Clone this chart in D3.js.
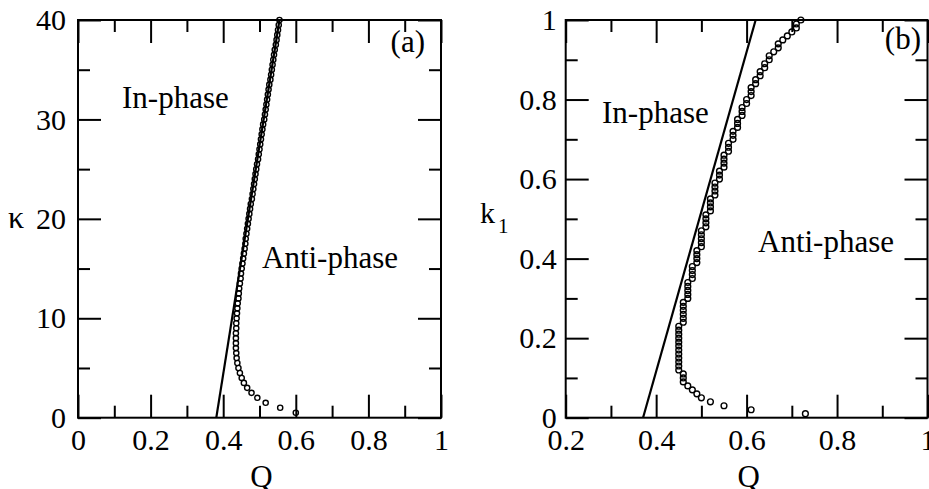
<!DOCTYPE html>
<html>
<head>
<meta charset="utf-8">
<script src="https://cdn.jsdelivr.net/npm/d3@7"></script>
<style>
  body { margin: 0; background: #fff; }
  svg { display: block; }
</style>
</head>
<body>
<div id="chart"></div>
<script>
// panel (a): kappa vs Q
const kappaA = [0.5, 1, 1.5, 2, 2.5, 3, 3.5, 4, 4.5, 5, 5.5, 6, 6.5, 7, 7.5, 8, 8.5, 9, 9.5, 10,
  10.5, 11, 11.5, 12, 12.5, 13, 13.5, 14, 14.5, 15, 15.5, 16, 16.5, 17, 17.5, 18, 18.5, 19, 19.5, 20,
  20.5, 21, 21.5, 22, 22.5, 23, 23.5, 24, 24.5, 25, 25.5, 26, 26.5, 27, 27.5, 28, 28.5, 29, 29.5, 30,
  30.5, 31, 31.5, 32, 32.5, 33, 33.5, 34, 34.5, 35, 35.5, 36, 36.5, 37, 37.5, 38, 38.5, 39, 39.5, 40];
const qA = [0.600, 0.557, 0.517, 0.494, 0.478, 0.466, 0.457, 0.451, 0.446, 0.442,
  0.439, 0.437, 0.436, 0.435, 0.435, 0.435, 0.435, 0.436, 0.436, 0.437,
  0.438, 0.439, 0.440, 0.442, 0.443, 0.444, 0.446, 0.448, 0.449, 0.451,
  0.453, 0.455, 0.457, 0.459, 0.461, 0.462, 0.464, 0.466, 0.468, 0.470,
  0.472, 0.474, 0.476, 0.479, 0.481, 0.483, 0.485, 0.487, 0.489, 0.491,
  0.493, 0.496, 0.498, 0.500, 0.502, 0.504, 0.506, 0.508, 0.510, 0.513,
  0.515, 0.517, 0.519, 0.521, 0.523, 0.525, 0.527, 0.530, 0.532, 0.534,
  0.536, 0.538, 0.540, 0.542, 0.545, 0.547, 0.549, 0.551, 0.553, 0.555];
const lineQA = [0.381, 0.555];
const lineKappaA = [0, 40];

// panel (b): k1 vs Q
const k1B = [0.01, 0.02, 0.03, 0.04, 0.05, 0.06, 0.07, 0.08, 0.09, 0.10,
  0.11, 0.12, 0.13, 0.14, 0.15, 0.16, 0.17, 0.18, 0.19, 0.20,
  0.21, 0.22, 0.23, 0.24, 0.25, 0.26, 0.27, 0.28, 0.29, 0.30,
  0.31, 0.32, 0.33, 0.34, 0.35, 0.36, 0.37, 0.38, 0.39, 0.40,
  0.41, 0.42, 0.43, 0.44, 0.45, 0.46, 0.47, 0.48, 0.49, 0.50,
  0.51, 0.52, 0.53, 0.54, 0.55, 0.56, 0.57, 0.58, 0.59, 0.60,
  0.61, 0.62, 0.63, 0.64, 0.65, 0.66, 0.67, 0.68, 0.69, 0.70,
  0.71, 0.72, 0.73, 0.74, 0.75, 0.76, 0.77, 0.78, 0.79, 0.80,
  0.81, 0.82, 0.83, 0.84, 0.85, 0.86, 0.87, 0.88, 0.89, 0.90,
  0.91, 0.92, 0.93, 0.94, 0.95, 0.96, 0.97, 0.98, 0.99, 1.00];
const qB = [0.73, 0.61, 0.55, 0.52, 0.50, 0.49, 0.48, 0.47, 0.46, 0.46,
  0.46, 0.45, 0.45, 0.45, 0.45, 0.45, 0.45, 0.45, 0.45, 0.45,
  0.45, 0.45, 0.45, 0.46, 0.46, 0.46, 0.46, 0.46, 0.46, 0.47,
  0.47, 0.47, 0.47, 0.47, 0.48, 0.48, 0.48, 0.48, 0.49, 0.49,
  0.49, 0.49, 0.50, 0.50, 0.50, 0.50, 0.50, 0.51, 0.51, 0.51,
  0.51, 0.52, 0.52, 0.52, 0.52, 0.53, 0.53, 0.53, 0.53, 0.54,
  0.54, 0.54, 0.55, 0.55, 0.55, 0.55, 0.56, 0.56, 0.56, 0.57,
  0.57, 0.57, 0.58, 0.58, 0.58, 0.59, 0.59, 0.59, 0.60, 0.60,
  0.61, 0.61, 0.61, 0.62, 0.62, 0.63, 0.63, 0.64, 0.64, 0.65,
  0.65, 0.66, 0.67, 0.67, 0.68, 0.69, 0.70, 0.71, 0.71, 0.72];
const lineQB = [0.371, 0.620];
const lineK1B = [0, 1];

// ticks
const xMajorA = [0, 0.2, 0.4, 0.6, 0.8, 1];
const xLabelsA = ["0", "0.2", "0.4", "0.6", "0.8", "1"];
const xMinorA = [0.1, 0.3, 0.5, 0.7, 0.9];
const yMajorA = [0, 10, 20, 30, 40];
const yLabelsA = ["0", "10", "20", "30", "40"];
const yMinorA = [5, 15, 25, 35];

const xMajorB = [0.2, 0.4, 0.6, 0.8, 1];
const xLabelsB = ["0.2", "0.4", "0.6", "0.8", "1"];
const xMinorB = [0.3, 0.5, 0.7, 0.9];
const yMajorB = [0, 0.2, 0.4, 0.6, 0.8, 1];
const yLabelsB = ["0", "0.2", "0.4", "0.6", "0.8", "1"];
const yMinorB = [0.1, 0.3, 0.5, 0.7, 0.9];

const W = 929, H = 489;
const FONT = "Liberation Serif, Times New Roman, serif";

const svg = d3.select("#chart").append("svg")
  .attr("width", W).attr("height", H)
  .attr("font-family", FONT);
svg.append("rect").attr("width", W).attr("height", H).attr("fill", "#fff");

function axisStyle(g) {
  g.attr("font-family", FONT).attr("font-size", 30);
  g.select(".domain").remove();
  g.selectAll("line").attr("stroke", "#000").attr("stroke-width", 2);
  g.selectAll("text").attr("fill", "#000")
    .attr("font-family", FONT).attr("font-size", 30);
}

function drawPanel(p) {
  const x = d3.scaleLinear().domain(p.xDomain).range([p.left, p.right]);
  const y = d3.scaleLinear().domain(p.yDomain).range([p.bottom, p.top]);
  const g = svg.append("g");

  // bottom / top
  g.append("g").attr("transform", `translate(0,${p.bottom})`)
    .call(d3.axisBottom(x).tickValues(p.xMajor).tickSizeInner(-23).tickSizeOuter(0)
      .tickPadding(11).tickFormat((d, i) => p.xLabels[i]))
    .call(axisStyle);
  g.append("g").attr("transform", `translate(0,${p.bottom})`)
    .call(d3.axisBottom(x).tickValues(p.xMinor).tickSize(-12).tickFormat(""))
    .call(axisStyle);
  g.append("g").attr("transform", `translate(0,${p.top})`)
    .call(d3.axisTop(x).tickValues(p.xMajor).tickSize(-23).tickFormat(""))
    .call(axisStyle);
  g.append("g").attr("transform", `translate(0,${p.top})`)
    .call(d3.axisTop(x).tickValues(p.xMinor).tickSize(-12).tickFormat(""))
    .call(axisStyle);

  // left / right
  g.append("g").attr("transform", `translate(${p.left},0)`)
    .call(d3.axisLeft(y).tickValues(p.yMajor).tickSizeInner(-23).tickSizeOuter(0)
      .tickPadding(p.yPad).tickFormat((d, i) => p.yLabels[i]))
    .call(axisStyle);
  g.append("g").attr("transform", `translate(${p.left},0)`)
    .call(d3.axisLeft(y).tickValues(p.yMinor).tickSize(-12).tickFormat(""))
    .call(axisStyle);
  g.append("g").attr("transform", `translate(${p.right},0)`)
    .call(d3.axisRight(y).tickValues(p.yMajor).tickSize(-23).tickFormat(""))
    .call(axisStyle);
  g.append("g").attr("transform", `translate(${p.right},0)`)
    .call(d3.axisRight(y).tickValues(p.yMinor).tickSize(-12).tickFormat(""))
    .call(axisStyle);

  // frame
  g.append("rect")
    .attr("x", p.left).attr("y", p.top)
    .attr("width", p.right - p.left).attr("height", p.bottom - p.top)
    .attr("fill", "none").attr("stroke", "#000").attr("stroke-width", 2);

  // straight boundary line
  const lineData = p.lineQ.map((q, i) => [q, p.lineY[i]]);
  g.append("path")
    .datum(lineData)
    .attr("d", d3.line().x(d => x(d[0])).y(d => y(d[1])))
    .attr("fill", "none").attr("stroke", "#000").attr("stroke-width", 2.2);

  // circles
  g.selectAll("circle.pt")
    .data(p.q.map((q, i) => [q, p.yVals[i]]))
    .enter().append("circle")
    .attr("class", "pt")
    .attr("cx", d => x(d[0])).attr("cy", d => y(d[1]))
    .attr("r", p.r)
    .attr("fill", "none").attr("stroke", "#000").attr("stroke-width", 1.4);

  // region labels
  const txt = (s, tx, ty) => g.append("text")
    .attr("x", tx).attr("y", ty)
    .attr("font-family", FONT).attr("font-size", 31)
    .attr("fill", "#000").text(s);
  txt("In-phase", p.inPhase[0], p.inPhase[1]);
  txt("Anti-phase", p.antiPhase[0], p.antiPhase[1]);
  txt(p.tag, p.tagPos[0], p.tagPos[1]).attr("text-anchor", "end");

  // x label
  g.append("text")
    .attr("x", (p.left + p.right) / 2 + 2).attr("y", 487)
    .attr("text-anchor", "middle")
    .attr("font-family", FONT).attr("font-size", 31)
    .text("Q");

  return g;
}

const gA = drawPanel({
  xDomain: [0, 1], yDomain: [0, 40],
  left: 78, right: 441, top: 20, bottom: 417.7,
  xMajor: xMajorA, xLabels: xLabelsA, xMinor: xMinorA,
  yMajor: yMajorA, yLabels: yLabelsA, yMinor: yMinorA, yPad: 12,
  lineQ: lineQA, lineY: lineKappaA,
  q: qA, yVals: kappaA, r: 2.6,
  inPhase: [122, 108], antiPhase: [262, 268],
  tag: "(a)", tagPos: [425, 52]
});
gA.append("text")
  .attr("x", 16).attr("y", 228)
  .attr("text-anchor", "middle")
  .attr("font-family", FONT).attr("font-size", 32)
  .text("κ");

const gB = drawPanel({
  xDomain: [0.2, 1], yDomain: [0, 1],
  left: 565.7, right: 927.5, top: 20, bottom: 417.7,
  xMajor: xMajorB, xLabels: xLabelsB, xMinor: xMinorB,
  yMajor: yMajorB, yLabels: yLabelsB, yMinor: yMinorB, yPad: 9,
  lineQ: lineQB, lineY: lineK1B,
  q: qB, yVals: k1B, r: 2.9,
  inPhase: [602, 123], antiPhase: [758, 252],
  tag: "(b)", tagPos: [921, 49]
});
const k1Label = gB.append("text")
  .attr("x", 480).attr("y", 223)
  .attr("font-family", FONT).attr("font-size", 30);
k1Label.append("tspan").text("k");
k1Label.append("tspan").attr("dx", 3).attr("dy", 10).attr("font-size", 21).text("1");
</script>
</body>
</html>
